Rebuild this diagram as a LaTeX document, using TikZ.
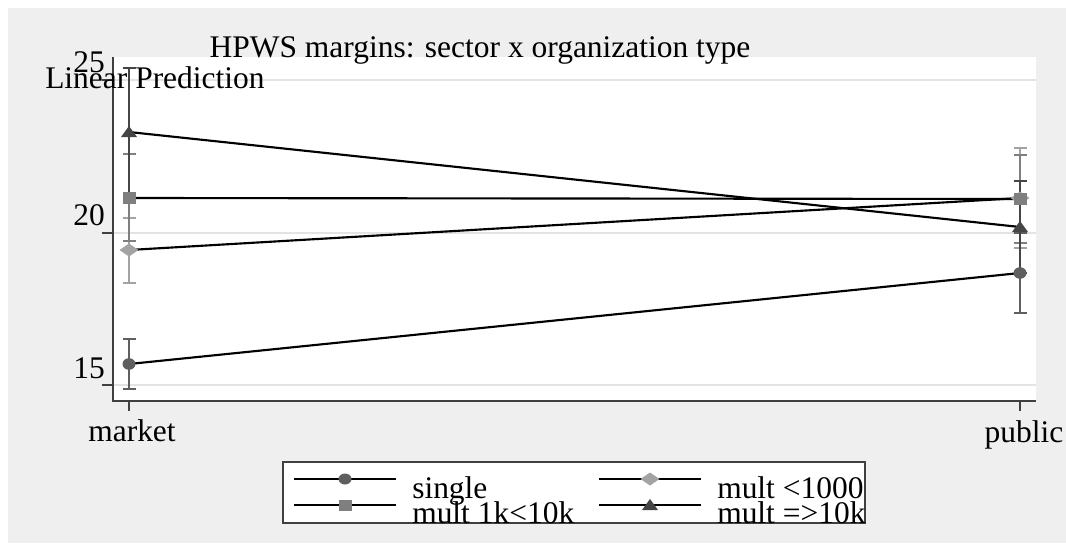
\documentclass[tikz,border=0pt]{standalone}
\usepackage{fontspec}
\setmainfont{Liberation Serif}
\definecolor{bggray}{HTML}{EFEFEF}
\definecolor{gridgray}{HTML}{E3E3E3}
\definecolor{axisgray}{HTML}{404040}
\definecolor{colS}{HTML}{5F5F5F}
\definecolor{colD}{HTML}{A3A3A3}
\definecolor{colQ}{HTML}{7F7F7F}
\definecolor{colT}{HTML}{454545}
\tikzset{
  txt/.style={inner sep=0pt, font=\fontsize{23.6}{28}\selectfont},
  gridline/.style={draw=gridgray, line width=1.5pt},
  axisline/.style={draw=axisgray, line width=0.8pt},
  ebar/.style={line width=1.9pt},
  serline/.style={draw=black, line width=1.6pt},
}
\begin{document}
\begin{tikzpicture}[x=0.75pt,y=-0.75pt]
\useasboundingbox (0,0) rectangle (1066,543);
\fill[white] (0,0) rectangle (1066,543);
\fill[bggray] (8,8) rectangle (1066,543);
\fill[white] (112,57) rectangle (1036,401);

% grid lines and axes
\draw[gridline] (113,80) -- (1036,80);
\draw[gridline] (113,233) -- (1036,233);
\draw[gridline] (113,385) -- (1036,385);
\draw[axisline] (113,57) -- (113,401) -- (1036,401);
\draw[axisline] (102,80) -- (113,80);
\draw[axisline] (102,233) -- (113,233);
\draw[axisline] (102,385) -- (113,385);
\draw[axisline] (129,401) -- (129,411);
\draw[axisline] (1020,401) -- (1020,411);

% texts
\node[txt, anchor=base] (title) at (480,57) {HPWS margins: sector x organization type};
\node[txt, anchor=base west] (ylab) at (45,88) {Linear Prediction};
\node[txt, anchor=base east] (y25) at (105,72) {25};
\node[txt, anchor=base east] (y20) at (105,225) {20};
\node[txt, anchor=base east] (y15) at (105,378) {15};
\node[txt, anchor=base] (xmarket) at (132,441) {market};
\node[txt, anchor=base] (xpublic) at (1024,442) {public};

% points
\coordinate (mS) at (129,364);
\coordinate (pS) at (1020,273);
\coordinate (mD) at (129,250);
\coordinate (pD) at (1020,198);
\coordinate (mQ) at (129,198);
\coordinate (pQ) at (1020,199);
\coordinate (mT) at (129,132);
\coordinate (pT) at (1020,227);

% confidence intervals
\draw[ebar, colS] (129,339) -- (129,389) (122.5,339) -- (135.5,339) (122.5,389) -- (135.5,389);
\draw[ebar, colS] (1020,233) -- (1020,313) (1013.5,233) -- (1026.5,233) (1013.5,313) -- (1026.5,313);
\draw[ebar, colD] (129,218) -- (129,283) (122.5,218) -- (135.5,218) (122.5,283) -- (135.5,283);
\draw[ebar, colD] (1020,148) -- (1020,248) (1013.5,148) -- (1026.5,148) (1013.5,248) -- (1026.5,248);
\draw[ebar, colQ] (129,154) -- (129,241) (122.5,154) -- (135.5,154) (122.5,241) -- (135.5,241);
\draw[ebar, colQ] (1020,155) -- (1020,243) (1013.5,155) -- (1026.5,155) (1013.5,243) -- (1026.5,243);
\draw[ebar, colT] (129,68) -- (129,196) (122.5,68) -- (135.5,68) (122.5,196) -- (135.5,196);
\draw[ebar, colT] (1020,181) -- (1020,273) (1013.5,181) -- (1026.5,181) (1013.5,273) -- (1026.5,273);

% lines
\draw[serline] (mS) -- (pS);
\draw[serline] (mD) -- (pD);
\draw[serline] (mQ) -- (pQ);
\draw[serline] (mT) -- (pT);

% markers
\fill[colS] (mS) ellipse (6.5 and 5.8);
\fill[colS] (pS) ellipse (6.5 and 5.8);
\fill[colD, shift={(mD)}] (-9.5,0) -- (0,-6.5) -- (9.5,0) -- (0,6.5) -- cycle;
\fill[colD, shift={(pD)}] (-9.5,0) -- (0,-6.5) -- (9.5,0) -- (0,6.5) -- cycle;
\fill[colQ, shift={(mQ)}] (-6.5,-6) rectangle (6.5,6);
\fill[colQ, shift={(pQ)}] (-6.5,-6) rectangle (6.5,6);
\fill[colT, shift={(mT)}] (-8,5) -- (0,-6) -- (8,5) -- cycle;
\fill[colT, shift={(pT)}] (-8,5) -- (0,-6) -- (8,5) -- cycle;

% legend
\draw[axisline, fill=white] (283,462) rectangle (865,523);
\coordinate (lS1) at (294,479);
\coordinate (lS2) at (396,479);
\coordinate (lQ1) at (294,505);
\coordinate (lQ2) at (396,505);
\coordinate (lD1) at (599,479);
\coordinate (lD2) at (701,479);
\coordinate (lT1) at (599,505);
\coordinate (lT2) at (701,505);
\draw[serline] (lS1) -- (lS2);
\draw[serline] (lQ1) -- (lQ2);
\draw[serline] (lD1) -- (lD2);
\draw[serline] (lT1) -- (lT2);
\fill[colS] (345,479) ellipse (6.5 and 5.5);
\fill[colQ, shift={(345,505)}] (-6.5,-5.5) rectangle (6.5,5.5);
\fill[colD, shift={(650,479)}] (-9.5,0) -- (0,-6.5) -- (9.5,0) -- (0,6.5) -- cycle;
\fill[colT, shift={(650,505)}] (-8,5) -- (0,-6) -- (8,5) -- cycle;
\node[txt, anchor=base west] (legS) at (412,498) {single};
\node[txt, anchor=base west] (legQ) at (412,523) {mult 1k<10k};
\node[txt, anchor=base west] (legD) at (717,498) {mult <1000};
\node[txt, anchor=base west] (legT) at (717,523) {mult =>10k};
\end{tikzpicture}
\end{document}
